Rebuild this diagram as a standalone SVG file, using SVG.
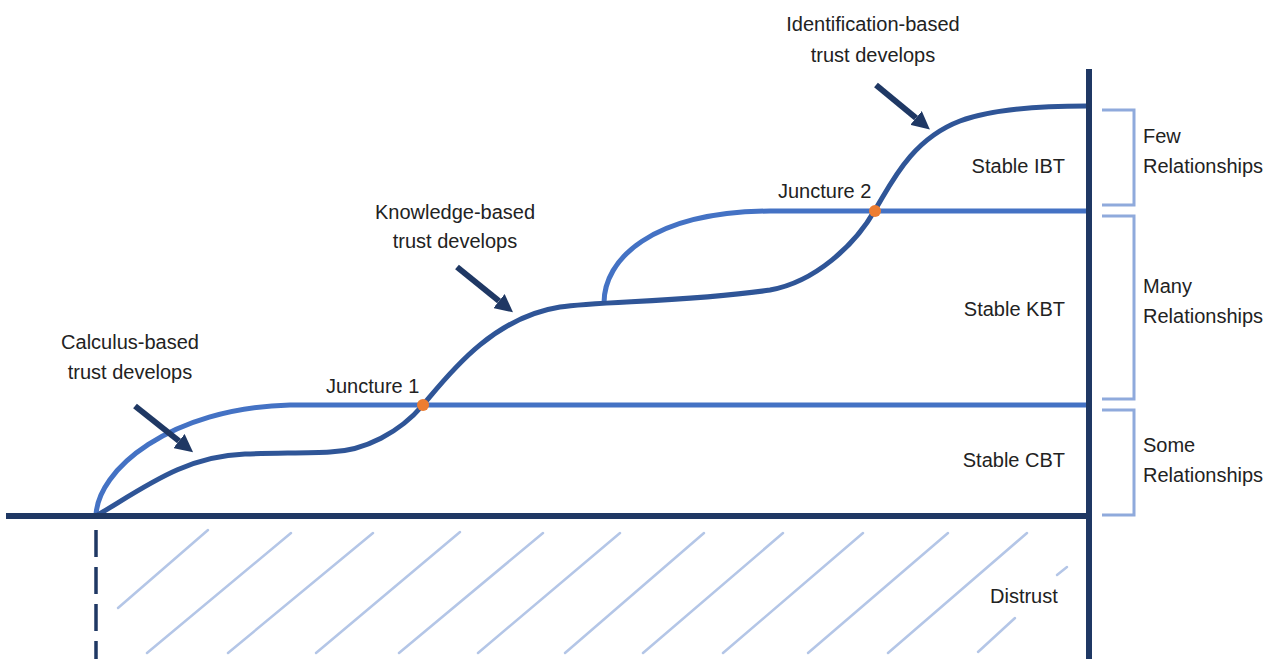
<svg xmlns="http://www.w3.org/2000/svg" width="1269" height="659" viewBox="0 0 1269 659">
  <defs>
    <style>
      .txt { font-family: "Liberation Sans", Arial, sans-serif; font-size: 20px; fill: #222222; }
      .mid { text-anchor: middle; }
      .end { text-anchor: end; }
      .axis { stroke: #1F3864; stroke-width: 6; fill: none; }
      .dark { stroke: #2F5597; stroke-width: 5; fill: none; stroke-linecap: round; }
      .light { stroke: #4472C4; stroke-width: 5; fill: none; }
      .hatch { stroke: #B4C6E7; stroke-width: 2.5; fill: none; stroke-linecap: round; }
      .bracket { stroke: #8FAADC; stroke-width: 3; fill: none; }
      .arrow { stroke: #1F3864; stroke-width: 6; fill: none; marker-end: url(#head); }
      .dot { fill: #ED7D31; }
    </style>
    <marker id="head" viewBox="0 0 10 10" refX="0" refY="5" markerWidth="3" markerHeight="3" orient="auto" markerUnits="strokeWidth">
      <path d="M0,0 L10,5 L0,10 z" fill="#1F3864"/>
    </marker>
  </defs>
  <rect width="1269" height="659" fill="#ffffff"/>

  <g id="distrust-hatch">
    <line class="hatch" x1="118" y1="608" x2="208" y2="530"/>
    <line class="hatch" x1="147" y1="653" x2="291" y2="533"/>
    <line class="hatch" x1="228" y1="653" x2="373" y2="533"/>
    <line class="hatch" x1="316" y1="653" x2="460" y2="532"/>
    <line class="hatch" x1="399" y1="653" x2="543" y2="533"/>
    <line class="hatch" x1="478" y1="653" x2="620" y2="533"/>
    <line class="hatch" x1="565" y1="653" x2="704" y2="533"/>
    <line class="hatch" x1="643" y1="653" x2="783" y2="533"/>
    <line class="hatch" x1="723" y1="653" x2="863" y2="533"/>
    <line class="hatch" x1="808" y1="653" x2="948" y2="533"/>
    <line class="hatch" x1="888" y1="653" x2="1027" y2="533"/>
    <line class="hatch" x1="978" y1="652" x2="1015" y2="618"/>
    <line class="hatch" x1="1057" y1="575" x2="1067" y2="567"/>
    <text class="txt" x="990" y="603">Distrust</text>
  </g>

  <g id="connectors">
    <path class="light" d="M96,516 C97,470 170,408 290,405 L1087,405"/>
    <path class="light" d="M604,303 C604,260 650,212 770,211 L1087,211"/>
    <path class="dark" d="M96,516 C145,487 185,456 245,454 C280,453 310,453 330,452 C365,451 400,432 423,405 C446,378 490,318 560,307 C600,301 690,302 770,290 C815,282 855,245 875,210 C890,186 910,140 960,121 C990,110 1040,106 1087,106"/>
    <line class="arrow" x1="135" y1="406" x2="179" y2="441"/>
    <line class="arrow" x1="457" y1="267" x2="499" y2="301"/>
    <line class="arrow" x1="876" y1="85" x2="916" y2="118"/>
  </g>

  <g id="axes">
    <line class="axis" x1="6" y1="516" x2="1092" y2="516"/>
    <line class="axis" x1="1089" y1="69" x2="1089" y2="659"/>
    <line x1="96" y1="530" x2="96" y2="659" stroke="#1F3864" stroke-width="3.5" stroke-dasharray="27 10"/>
  </g>

  <g id="juncture-1">
    <circle class="dot" cx="423" cy="405" r="6"/>
    <text class="txt" x="326" y="393">Juncture 1</text>
  </g>
  <g id="juncture-2">
    <circle class="dot" cx="875" cy="211" r="6"/>
    <text class="txt" x="778" y="198">Juncture 2</text>
  </g>

  <g id="label-cbt-develops">
    <text class="txt mid" x="130" y="349">Calculus-based</text>
    <text class="txt mid" x="130" y="379">trust develops</text>
  </g>
  <g id="label-kbt-develops">
    <text class="txt mid" x="455" y="219">Knowledge-based</text>
    <text class="txt mid" x="455" y="248">trust develops</text>
  </g>
  <g id="label-ibt-develops">
    <text class="txt mid" x="873" y="31">Identification-based</text>
    <text class="txt mid" x="873" y="62">trust develops</text>
  </g>

  <g id="stable-ibt"><text class="txt end" x="1065" y="173">Stable IBT</text></g>
  <g id="stable-kbt"><text class="txt end" x="1065" y="316">Stable KBT</text></g>
  <g id="stable-cbt"><text class="txt end" x="1065" y="467">Stable CBT</text></g>

  <g id="few-relationships">
    <path class="bracket" d="M1102,110 H1134 V205 H1102"/>
    <text class="txt" x="1143" y="143">Few</text>
    <text class="txt" x="1143" y="173">Relationships</text>
  </g>
  <g id="many-relationships">
    <path class="bracket" d="M1102,216 H1134 V399 H1102"/>
    <text class="txt" x="1143" y="293">Many</text>
    <text class="txt" x="1143" y="323">Relationships</text>
  </g>
  <g id="some-relationships">
    <path class="bracket" d="M1102,410 H1134 V515 H1102"/>
    <text class="txt" x="1143" y="452">Some</text>
    <text class="txt" x="1143" y="482">Relationships</text>
  </g>
</svg>
